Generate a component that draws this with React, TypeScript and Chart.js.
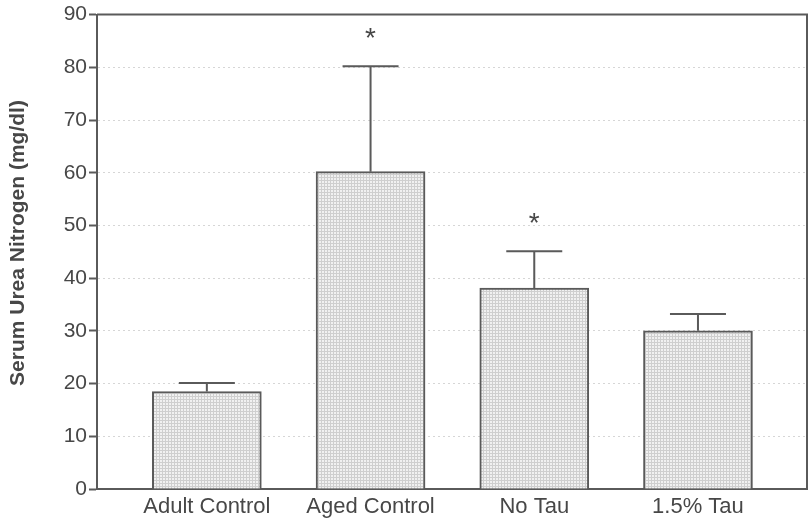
import React, { useEffect, useRef } from "react";
import { Chart, registerables } from "chart.js";

Chart.register(...registerables);

const categories = ["Adult Control", "Aged Control", "No Tau", "1.5% Tau"];
const means = [18.5, 60.2, 38.1, 30.0];
const errors = [1.6, 20.0, 7.0, 3.2];
const significant = [false, true, true, false];
const yTicks = [0, 10, 20, 30, 40, 50, 60, 70, 80, 90];
const yTitle = "Serum Urea Nitrogen (mg/dl)";

const FONT = "'Liberation Sans', Arial, Helvetica, sans-serif";
const TEXT = "#474747";
const LINE = "#5a5a5a";

function makePattern(): CanvasPattern | string {
  const c = document.createElement("canvas");
  c.width = 3;
  c.height = 3;
  const g = c.getContext("2d");
  if (!g) return "#e6e6e6";
  g.fillStyle = "#f1f1f1";
  g.fillRect(0, 0, 3, 3);
  g.fillStyle = "#cfcfcf";
  g.fillRect(0, 0, 3, 1);
  g.fillRect(0, 0, 1, 3);
  const p = g.createPattern(c, "repeat");
  return p || "#e6e6e6";
}

const extrasPlugin = {
  id: "extras",
  afterDatasetsDraw(chart: any) {
    const { ctx, chartArea, scales } = chart;
    const xs = scales.x;
    const ys = scales.y;
    ctx.save();
    // frame top & right
    ctx.strokeStyle = LINE;
    ctx.lineWidth = 2;
    ctx.beginPath();
    ctx.moveTo(chartArea.left, chartArea.top);
    ctx.lineTo(chartArea.right, chartArea.top);
    ctx.lineTo(chartArea.right, chartArea.bottom);
    ctx.stroke();
    // error bars
    ctx.strokeStyle = LINE;
    ctx.lineWidth = 2;
    means.forEach((m, i) => {
      const x = xs.getPixelForValue(i);
      const yb = ys.getPixelForValue(m);
      const yt = ys.getPixelForValue(m + errors[i]);
      ctx.beginPath();
      ctx.moveTo(x, yb);
      ctx.lineTo(x, yt);
      ctx.moveTo(x - 28, yt);
      ctx.lineTo(x + 28, yt);
      ctx.stroke();
      if (significant[i]) {
        ctx.fillStyle = TEXT;
        ctx.font = `28px ${FONT}`;
        ctx.textAlign = "center";
        ctx.textBaseline = "alphabetic";
        ctx.fillText("*", x, yt - 19);
      }
    });
    // y title
    ctx.translate(18, 243);
    ctx.rotate(-Math.PI / 2);
    ctx.fillStyle = TEXT;
    ctx.font = `bold 21px ${FONT}`;
    ctx.textAlign = "center";
    ctx.textBaseline = "middle";
    ctx.fillText(yTitle, 0, 0);
    ctx.restore();
  },
};

export default function App() {
  const ref = useRef<HTMLCanvasElement>(null);
  useEffect(() => {
    if (!ref.current) return;
    const chart = new Chart(ref.current, {
      type: "bar",
      data: {
        datasets: [
          {
            data: means.map((v, i) => ({ x: i, y: v })),
            backgroundColor: makePattern() as any,
            borderColor: LINE,
            borderWidth: 2,
            borderSkipped: "bottom",
            barThickness: 109,
          },
        ],
      },
      options: {
        responsive: false,
        animation: false,
        layout: { padding: { top: 14, right: 3, left: 0, bottom: 0 } },
        plugins: { legend: { display: false }, tooltip: { enabled: false } },
        scales: {
          x: {
            type: "linear",
            offset: false,
            bounds: "data",
            min: -0.671,
            max: 3.666,
            afterFit: (s: any) => {
              s.height = 29;
            },
            afterBuildTicks: (s: any) => {
              s.ticks = categories.map((_, i) => ({ value: i }));
            },
            ticks: {
              autoSkip: false,
              maxRotation: 0,
              padding: -3,
              color: TEXT,
              font: { family: FONT, size: 22 },
              callback: (v: any) => categories[Number(v)] ?? "",
            },
            grid: { display: false, offset: false },
            border: { display: true, color: LINE, width: 2 },
          },
          y: {
            min: 0,
            max: 90,
            afterFit: (s: any) => {
              s.width = 97;
            },
            afterBuildTicks: (s: any) => {
              s.ticks = yTicks.map((v) => ({ value: v }));
            },
            ticks: {
              padding: 2,
              color: TEXT,
              font: { family: FONT, size: 21 },
            },
            grid: {
              color: "#d6d6d6",
              lineWidth: 1,
              tickColor: LINE,
              tickLength: 8,
              tickWidth: 2,
            },
            border: { display: true, color: LINE, width: 2, dash: [2, 3] },
          },
        },
      },
      plugins: [extrasPlugin],
    });
    return () => chart.destroy();
  }, []);
  return (
    <div style={{ position: "absolute", left: 0, top: 0, width: 810, height: 518, background: "#fff" }}>
      <canvas ref={ref} width={810} height={518} />
    </div>
  );
}
